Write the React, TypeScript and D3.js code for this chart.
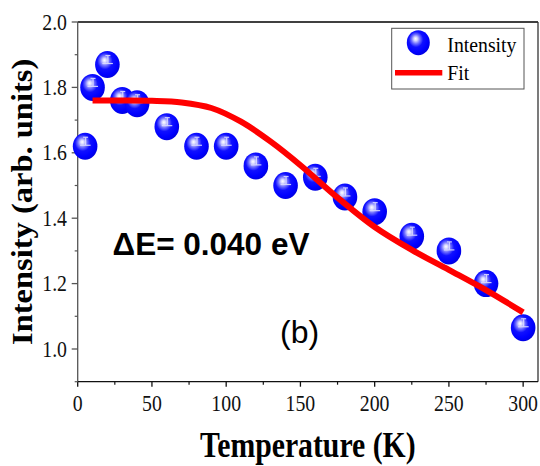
import React from "react";
import * as d3 from "d3";

// Measured intensity vs. temperature
const temperatures = [5, 10, 20, 30, 40, 60, 80, 100, 120, 140, 160, 180, 200, 225, 250, 275, 300];
const intensities = [1.62, 1.80, 1.87, 1.76, 1.75, 1.68, 1.62, 1.62, 1.56, 1.50, 1.525, 1.465, 1.42, 1.345, 1.30, 1.20, 1.065];

// Thermal-quenching fit curve
const fitTemperatures = [10, 30, 50, 70, 90, 110, 130, 150, 175, 200, 225, 250, 275, 300];
const fitIntensities = [1.760, 1.760, 1.759, 1.754, 1.737, 1.695, 1.634, 1.562, 1.463, 1.373, 1.303, 1.242, 1.180, 1.112];

const xTicks = [0, 50, 100, 150, 200, 250, 300];
const xMinorTicks = [25, 75, 125, 175, 225, 275];
const yTicks = [1.0, 1.2, 1.4, 1.6, 1.8, 2.0];
const yMinorTicks = [0.9, 1.1, 1.3, 1.5, 1.7, 1.9];

const W = 540;
const H = 466;
const left = 77.7;
const right = 538;
const top = 22;
const bottom = 381.7;
const SX = 0.86; // horizontal glyph compression of the serif labels

const serif = "'Liberation Serif', 'Times New Roman', serif";
const sans = "'Liberation Sans', Arial, sans-serif";

export default function App() {
  const x = d3.scaleLinear().domain([0, 310]).range([left, right]);
  const y = d3.scaleLinear().domain([0.9, 2.0]).range([bottom, top]);

  const fitLine = d3
    .line<number>()
    .x((_, i) => x(fitTemperatures[i]))
    .y((d) => y(d))
    .curve(d3.curveCatmullRom.alpha(0.5))(fitIntensities) as string;

  const sphere = (cx: number, cy: number, rx: number, ry: number, key: string, bar: boolean) => (
    <g key={key}>
      <ellipse cx={cx} cy={cy} rx={rx} ry={ry} fill="url(#ballGrad)" />
      {bar && (
        <g stroke="#dcdcff" strokeWidth={1.2} opacity={0.9}>
          <line x1={cx + 0.5} y1={cy - 9} x2={cx + 0.5} y2={cy - 1} />
          <line x1={cx - 2} y1={cy - 9} x2={cx + 3} y2={cy - 9} />
          <line x1={cx - 5} y1={cy - 1} x2={cx + 5.5} y2={cy - 1} />
        </g>
      )}
    </g>
  );

  return (
    <svg
      width={W}
      height={H}
      style={{ position: "absolute", left: 0, top: 0, background: "#fff" }}
    >
      <defs>
        <radialGradient id="ballGrad" cx="0.42" cy="0.4" r="0.62" fx="0.38" fy="0.34">
          <stop offset="0" stopColor="#ffffff" />
          <stop offset="0.12" stopColor="#d8d8ff" />
          <stop offset="0.3" stopColor="#7070ff" />
          <stop offset="0.5" stopColor="#1010ff" />
          <stop offset="0.8" stopColor="#0000ff" />
          <stop offset="1" stopColor="#0000e0" />
        </radialGradient>
      </defs>

      {/* frame */}
      <line x1={left} y1={top} x2={right} y2={top} stroke="#000" strokeWidth={1.3} />
      <line x1={right} y1={top} x2={right} y2={bottom} stroke="#333" strokeWidth={1.3} />
      <line x1={left} y1={top} x2={left} y2={bottom} stroke="#555" strokeWidth={1.3} />
      <line x1={left} y1={bottom} x2={right} y2={bottom} stroke="#111" strokeWidth={1.3} />

      {/* x ticks */}
      {xTicks.map((t) => (
        <g key={"xt" + t}>
          <line x1={x(t)} y1={bottom} x2={x(t)} y2={bottom + 5} stroke="#111" strokeWidth={1.3} />
          <text
            transform={`translate(${x(t)},411) scale(${SX},1)`}
            textAnchor="middle"
            fontFamily={serif}
            fontSize={23}
            fill="#111"
          >
            {t}
          </text>
        </g>
      ))}
      {xMinorTicks.map((t) => (
        <line key={"xm" + t} x1={x(t)} y1={bottom} x2={x(t)} y2={bottom + 3} stroke="#111" strokeWidth={1.2} />
      ))}

      {/* y ticks */}
      {yTicks.map((t) => (
        <g key={"yt" + t}>
          <line x1={left - 6} y1={y(t)} x2={left} y2={y(t)} stroke="#555" strokeWidth={1.3} />
          <text
            transform={`translate(67,${y(t) + 7.5}) scale(${SX},1)`}
            textAnchor="end"
            fontFamily={serif}
            fontSize={23}
            fill="#111"
          >
            {t.toFixed(1)}
          </text>
        </g>
      ))}
      {yMinorTicks.map((t) => (
        <line key={"ym" + t} x1={left - 3} y1={y(t)} x2={left} y2={y(t)} stroke="#555" strokeWidth={1.2} />
      ))}

      {/* axis titles */}
      <text
        transform={`translate(${(left + right) / 2},456.5) scale(0.85,1)`}
        textAnchor="middle"
        fontFamily={serif}
        fontWeight="bold"
        fontSize={35}
        fill="#000"
      >
        Temperature (K)
      </text>
      <text
        transform={`translate(32,${(top + bottom) / 2}) rotate(-90) scale(1,0.92)`}
        textAnchor="middle"
        fontFamily={serif}
        fontWeight="bold"
        fontSize={32.5}
        fill="#000"
      >
        Intensity (arb. units)
      </text>

      {/* data spheres */}
      {temperatures.map((t, i) => sphere(x(t), y(intensities[i]), 12.3, 13.5, "p" + i, true))}

      {/* fit */}
      <path d={fitLine} fill="none" stroke="#ff0000" strokeWidth={6} />

      {/* annotations */}
      <text x={112.5} y={255} fontFamily={sans} fontWeight="bold" fontSize={31.5} fill="#000">
        ΔE= 0.040 eV
      </text>
      <text x={280} y={343} fontFamily={sans} fontSize={32} fill="#000">
        (b)
      </text>

      {/* legend */}
      <rect x={391.7} y={28.3} width={132.3} height={60.7} fill="#fff" stroke="#555" strokeWidth={1} />
      {sphere(418.3, 42.7, 11.5, 12.5, "leg", false)}
      <text
        transform={`translate(447.3,51.7) scale(0.92,1)`}
        fontFamily={serif}
        fontSize={21.5}
        fill="#000"
      >
        Intensity
      </text>
      <line x1={395} y1={72.7} x2={442.3} y2={72.7} stroke="#ff0000" strokeWidth={5.5} />
      <text
        transform={`translate(447.3,79.5) scale(0.92,1)`}
        fontFamily={serif}
        fontSize={21.5}
        fill="#000"
      >
        Fit
      </text>
    </svg>
  );
}
